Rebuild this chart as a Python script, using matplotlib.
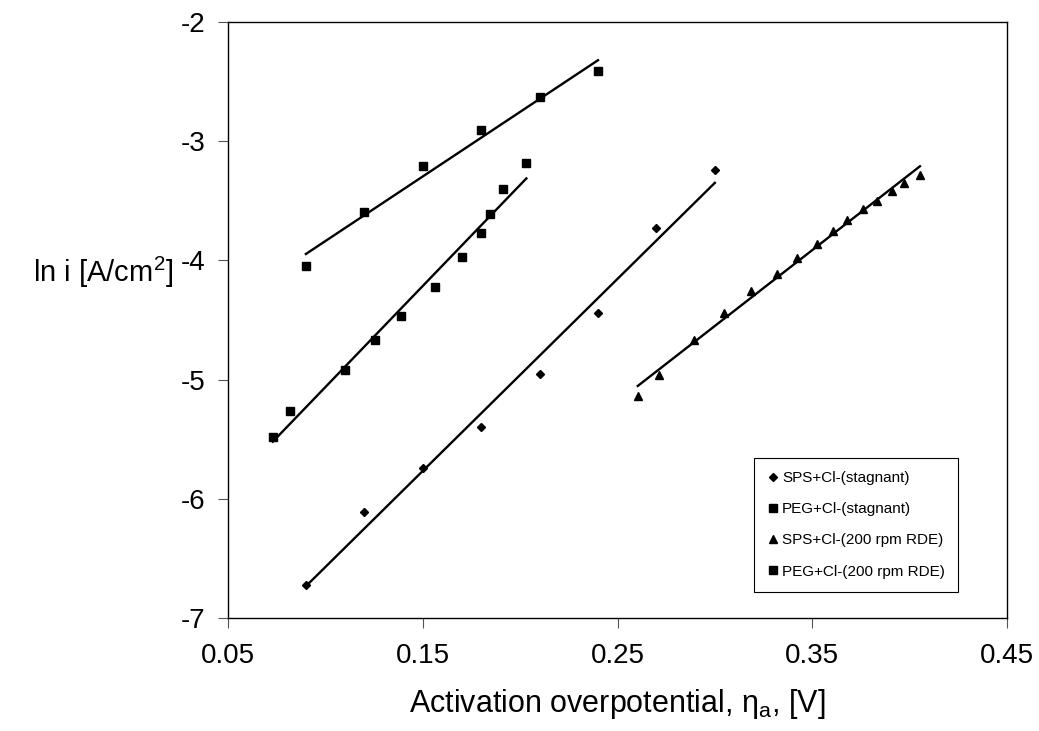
import numpy as np
import matplotlib
matplotlib.use('Agg')
import matplotlib.pyplot as plt

plt.rcParams['font.family'] = ['Liberation Sans', 'DejaVu Sans']
plt.rcParams['mathtext.fontset'] = 'custom'
plt.rcParams['mathtext.rm'] = 'Liberation Sans'
plt.rcParams['mathtext.it'] = 'Liberation Sans:italic'
plt.rcParams['axes.unicode_minus'] = False

# SPS+Cl- stagnant (diamonds)
sps_stag_x = [0.09, 0.12, 0.15, 0.18, 0.21, 0.24, 0.27, 0.30]
sps_stag_y = [-6.72, -6.11, -5.74, -5.40, -4.95, -4.44, -3.73, -3.24]

# PEG+Cl- stagnant (squares, lower set)
peg_stag_x = [0.073, 0.082, 0.110, 0.1255, 0.139, 0.1565, 0.170, 0.180, 0.1847, 0.1914, 0.2032]
peg_stag_y = [-5.48, -5.26, -4.92, -4.67, -4.47, -4.22, -3.97, -3.77, -3.61, -3.40, -3.18]

# SPS+Cl- 200 rpm RDE (triangles)
sps_rde_x = [0.2604, 0.2715, 0.2895, 0.3047, 0.3183, 0.3319, 0.3424, 0.3522,
             0.3606, 0.3681, 0.3760, 0.3832, 0.3909, 0.3972, 0.4053]
sps_rde_y = [-5.14, -4.96, -4.67, -4.44, -4.26, -4.11, -3.98, -3.86,
             -3.75, -3.66, -3.57, -3.50, -3.42, -3.35, -3.28]

# PEG+Cl- 200 rpm RDE (squares, upper set)
peg_rde_x = [0.09, 0.12, 0.15, 0.18, 0.21, 0.24]
peg_rde_y = [-4.05, -3.59, -3.21, -2.91, -2.63, -2.41]

labels = ['SPS+Cl-(stagnant)', 'PEG+Cl-(stagnant)',
          'SPS+Cl-(200 rpm RDE)', 'PEG+Cl-(200 rpm RDE)']
markers = ['D', 's', '^', 's']
msizes = [4.3, 6.3, 6.3, 6.3]

fig = plt.figure(figsize=(10.39, 7.31), dpi=100)
ax = fig.add_axes([228 / 1039, 1 - 618 / 731, 779 / 1039, 596 / 731])

series = [(sps_stag_x, sps_stag_y), (peg_stag_x, peg_stag_y),
          (sps_rde_x, sps_rde_y), (peg_rde_x, peg_rde_y)]

handles = []
for (x, y), lab, m, ms in zip(series, labels, markers, msizes):
    x = np.array(x)
    y = np.array(y)
    h, = ax.plot(x, y, linestyle='none', marker=m, markersize=ms,
                 color='black', label=lab, zorder=3)
    handles.append(h)
    # linear trendline
    k, b = np.polyfit(x, y, 1)
    xs = np.array([x.min(), x.max()])
    ax.plot(xs, k * xs + b, color='black', linewidth=1.7, zorder=2)

ax.set_xlim(0.05, 0.45)
ax.set_ylim(-7, -2)
ax.set_xticks([0.05, 0.15, 0.25, 0.35, 0.45])
ax.set_xticklabels(['0.05', '0.15', '0.25', '0.35', '0.45'])
ax.set_yticks([-7, -6, -5, -4, -3, -2])
ax.set_yticklabels(['-7', '-6', '-5', '-4', '-3', '-2'])

for s in ax.spines.values():
    s.set_linewidth(1.0)
ax.tick_params(axis='both', direction='out', length=7, width=0.8,
               color='#555555', labelsize=20)
ax.tick_params(axis='x', pad=11)
ax.tick_params(axis='y', pad=9)

ax.set_xlabel('Activation overpotential, $\\mathregular{\\eta_a}$, [V]', fontsize=22)
ax.xaxis.set_label_coords(0.5, -0.145)
ax.xaxis.label.set_va('center')

ax.set_ylabel('ln i [A/cm$\\mathregular{^2}$]', fontsize=21, rotation=0,
              ha='right', va='center')
ax.yaxis.set_label_coords(-0.071, 0.58)

leg = ax.legend(handles=handles, loc='upper left', bbox_to_anchor=(0.675, 0.268),
                borderaxespad=0, fontsize=11, frameon=True, fancybox=False,
                edgecolor='black', framealpha=1, handlelength=0.8,
                handletextpad=0.2, labelspacing=1.12, borderpad=0.85,
                markerscale=0.9)
leg.get_frame().set_linewidth(0.8)

fig.savefig('out.png', dpi=100)
